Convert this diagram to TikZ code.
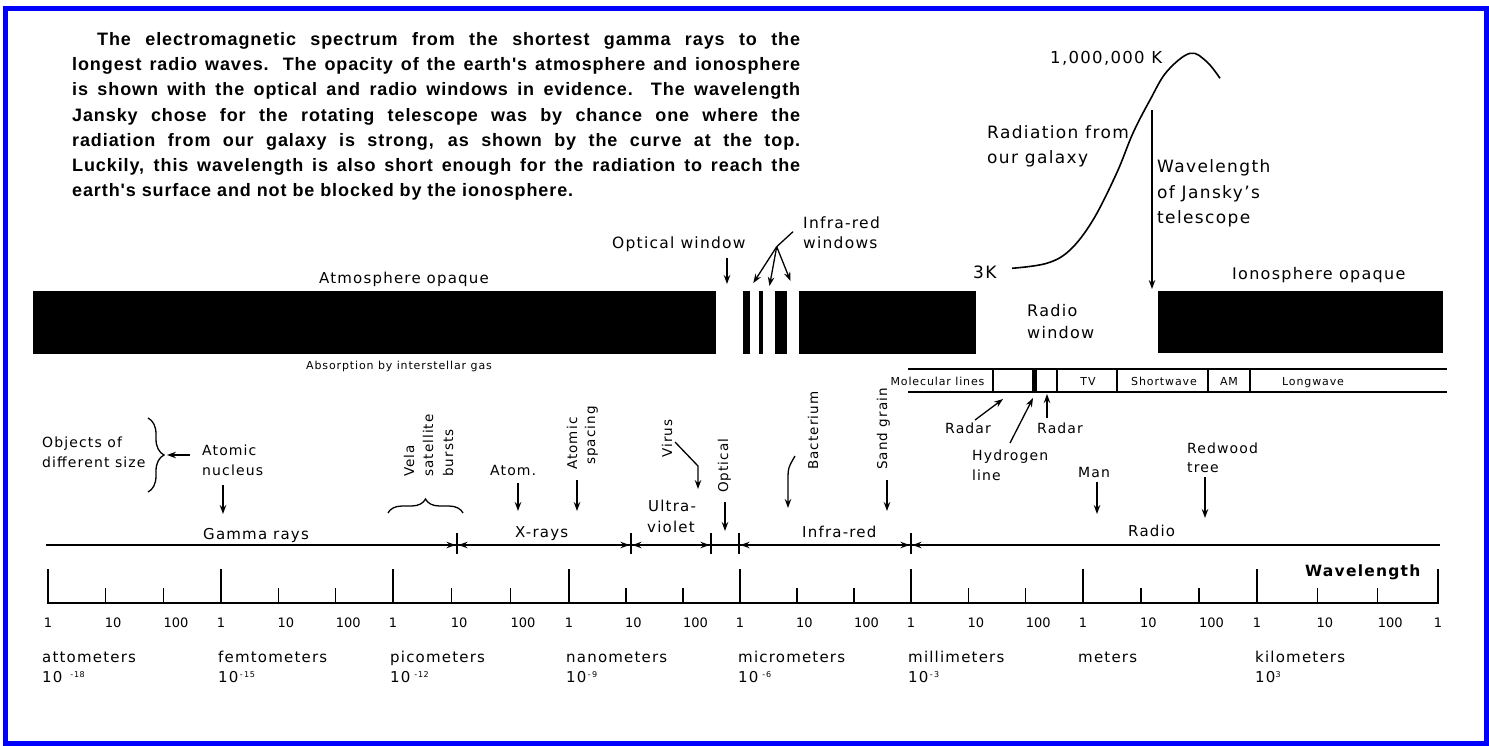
\documentclass[tikz,border=0pt]{standalone}
\usepackage{fontspec}
\setmainfont{DejaVu Sans}[LetterSpace=8]
\newfontfamily\numfont{DejaVu Sans}
\newfontfamily\capfont{Liberation Sans}[LetterSpace=5]
\usetikzlibrary{arrows.meta,decorations.pathreplacing}
\newcommand{\fsz}[1]{\fontsize{#1}{#1}\selectfont}
\newcommand{\expo}[1]{\raisebox{5pt}{\fsz{8}#1}}
\begin{document}
\begin{tikzpicture}[x=1pt,y=-1pt,
  lab/.style={inner sep=0pt, anchor=base west, font=\fsz{15}},
  labb/.style={inner sep=0pt, anchor=base west, font=\fsz{14}},
  biglab/.style={inner sep=0pt, anchor=base west, font=\fsz{17}},
  rotlab/.style={inner sep=0pt, anchor=base west, rotate=90, font=\fsz{13.5}},
  tbl/.style={inner sep=0pt, anchor=base, font=\fsz{11}},
  num/.style={inner sep=0pt, anchor=base west, font=\numfont\fsz{13}},
  captxt/.style={inner sep=0pt, anchor=base west, font=\capfont\bfseries\fsz{18}},
  arr/.style={line width=1.3pt, -{Stealth[length=9pt,width=6.5pt]}},
  tickln/.style={line width=1.5pt},
  bracestyle/.style={line width=1.3pt, decorate},
]
\useasboundingbox (0,0) rectangle (1489,745);

% caption
\node[captxt] (cap1) at (97,45.5) {\makebox[703pt][s]{The electromagnetic spectrum from the shortest gamma rays to the}};
\node[captxt] (cap2) at (72,70.7) {\makebox[728pt][s]{longest radio waves. The opacity of the earth's atmosphere and ionosphere}};
\node[captxt] (cap3) at (72,95.9) {\makebox[728pt][s]{is shown with the optical and radio windows in evidence. The wavelength}};
\node[captxt] (cap4) at (72,121.1) {\makebox[728pt][s]{Jansky chose for the rotating telescope was by chance one where the}};
\node[captxt] (cap5) at (72,146.3) {\makebox[728pt][s]{radiation from our galaxy is strong, as shown by the curve at the top.}};
\node[captxt] (cap6) at (72,171.5) {\makebox[728pt][s]{Luckily, this wavelength is also short enough for the radiation to reach the}};
\node[captxt] (cap7) at (72,196.7) {earth's surface and not be blocked by the ionosphere.};

% galaxy curve
\draw[line width=1.6pt] plot[smooth, tension=0.6] coordinates {(1012,268.3) (1046.7,263.3) (1070,250) (1093,220) (1116.7,173) (1133,133) (1150,100) (1166.7,71.7) (1190,53.3) (1206.7,61.7) (1220,78.3)};
\node[biglab, font=\fsz{16.5}] (peak) at (1050,63) {1,000,000 K};
\node[biglab] (threek) at (973,278) {3K};
\node[biglab] (rad1) at (987,138) {Radiation from};
\node[biglab] (rad2) at (987,163) {our galaxy};
\node[biglab] (jan1) at (1157,172) {Wavelength};
\node[biglab] (jan2) at (1157,198) {of Jansky's};
\node[biglab] (jan3) at (1157,223) {telescope};
\coordinate (janA) at (1152,110);
\coordinate (janB) at (1152,289);
\draw[arr] (janA) -- (janB);
\node[lab, font=\fsz{16}] (iono) at (1232,279) {Ionosphere opaque};
\node[lab, font=\fsz{16}] (rw1) at (1027,316) {Radio};
\node[lab, font=\fsz{16}] (rw2) at (1027,338) {window};

% opaque bars
\fill (33,291) rectangle (716,354);
\fill (743,291) rectangle (750,354);
\fill (759,291) rectangle (763,354);
\fill (775,291) rectangle (787,354);
\fill (799,291) rectangle (976,354);
\fill (1158,291) rectangle (1443,353);

\node[lab, anchor=base] (atmo) at (404,283) {Atmosphere opaque};
\node[tbl] (absorb) at (399,369) {Absorption by interstellar gas};
\node[lab, font=\fsz{15.5}] (optw) at (612,248.5) {Optical window};
\coordinate (optA) at (727,258);
\coordinate (optB) at (727,284);
\draw[arr] (optA) -- (optB);
\node[lab, font=\fsz{15.5}] (irw1) at (803,228) {Infra-red};
\node[lab, font=\fsz{15.5}] (irw2) at (803,248.5) {windows};
\coordinate (irS) at (793,231.7);
\coordinate (irJ) at (776.7,246.7);
\coordinate (ir1) at (753.3,283);
\coordinate (ir2) at (769.5,286);
\coordinate (ir3) at (790.5,281);
\draw[line width=1.3pt] (irS) -- (irJ);
\draw[arr] (irJ) -- (ir1);
\draw[arr] (irJ) -- (ir2);
\draw[arr] (irJ) -- (ir3);

% radio table
\draw[line width=1.4pt] (908,369) -- (1447,369);
\draw[line width=1.4pt] (908,392) -- (1447,392);
\foreach \xx in {993,1057,1117,1208,1250}{\draw[line width=1.4pt] (\xx,369) -- (\xx,392);}
\fill (1032,369) rectangle (1037,392);
\node[tbl] (mol) at (937.5,385) {Molecular lines};
\node[tbl] (tv) at (1088,385) {TV};
\node[tbl] (sw) at (1164,385) {Shortwave};
\node[tbl] (am) at (1229,385) {AM};
\node[tbl] (lw) at (1313,385) {Longwave};

\node[labb] (radarL) at (945,433) {Radar};
\node[labb] (radarR) at (1037,433) {Radar};
\node[labb] (hyd1) at (972,460) {Hydrogen};
\node[labb] (hyd2) at (972,480) {line};
\coordinate (radLA) at (975,420);
\coordinate (radLB) at (1003,399);
\draw[arr] (radLA) -- (radLB);
\coordinate (hydA) at (1010,443);
\coordinate (hydB) at (1033,398);
\draw[arr] (hydA) -- (hydB);
\coordinate (radRA) at (1047,418);
\coordinate (radRB) at (1047,394);
\draw[arr] (radRA) -- (radRB);
\node[labb] (man) at (1078,477) {Man};
\coordinate (manA) at (1097,482);
\coordinate (manB) at (1097,514);
\draw[arr] (manA) -- (manB);
\node[labb] (red1) at (1187,453) {Redwood};
\node[labb] (red2) at (1187,472) {tree};
\coordinate (redA) at (1205,477);
\coordinate (redB) at (1205,518);
\draw[arr] (redA) -- (redB);

% objects
\node[labb] (obj1) at (42,447) {Objects of};
\node[labb] (obj2) at (42,467) {different size};
\coordinate (brT) at (148,418);
\coordinate (brB) at (148,492);
\draw[bracestyle, decoration={brace, amplitude=16pt}] (brT) -- (brB);
\coordinate (objA) at (190,455);
\coordinate (objB) at (167,455);
\draw[arr] (objA) -- (objB);
\node[labb] (nuc1) at (202,455) {Atomic};
\node[labb] (nuc2) at (202,475) {nucleus};
\coordinate (nucA) at (223,485);
\coordinate (nucB) at (223,514);
\draw[arr] (nucA) -- (nucB);

\node[rotlab] (vela) at (414,477) {Vela};
\node[rotlab] (sat) at (433,477) {satellite};
\node[rotlab] (burst) at (453,477) {bursts};
\coordinate (vbL) at (388,513);
\coordinate (vbR) at (463,513);
\draw[bracestyle, decoration={brace, amplitude=14pt}] (vbL) -- (vbR);

\node[labb] (atom) at (490,475) {Atom.};
\coordinate (atA) at (518,483);
\coordinate (atB) at (518,511);
\draw[arr] (atA) -- (atB);
\node[rotlab] (asp1) at (577,470) {Atomic};
\node[rotlab] (asp2) at (595,465) {spacing};
\coordinate (aspA) at (577,480);
\coordinate (aspB) at (577,511);
\draw[arr] (aspA) -- (aspB);
\node[rotlab] (virus) at (672,458) {Virus};
\coordinate (virA) at (675,442);
\coordinate (virM) at (698,466);
\coordinate (virB) at (698,489);
\draw[arr] (virA) -- (virM) -- (virB);
\node[rotlab] (optic) at (728,493) {Optical};
\coordinate (opA) at (725,502);
\coordinate (opB) at (725,531);
\draw[arr] (opA) -- (opB);
\node[rotlab] (bact) at (818,470) {Bacterium};
\coordinate (baA) at (795,456);
\coordinate (baB) at (788,508);
\draw[arr] (baA) .. controls (788,468) .. (788,482) -- (baB);
\node[rotlab] (sand) at (887,470) {Sand grain};
\coordinate (saA) at (887,480);
\coordinate (saB) at (887,511);
\draw[arr] (saA) -- (saB);

% band line
\draw[line width=1.4pt] (46,545) -- (1440,545);
\node[lab] (gamma) at (203,539) {Gamma rays};
\node[lab] (xray) at (515,537) {X-rays};
\node[lab] (uv1) at (648,511) {Ultra-};
\node[lab] (uv2) at (647,532) {violet};
\node[lab] (ir) at (802,537) {Infra-red};
\node[lab] (radio) at (1128,536) {Radio};
\foreach \xx in {457,631,711,739,911}{\draw[tickln] (\xx,533) -- (\xx,554);}
\draw[arr] (436,545) -- (455.5,545);
\draw[arr] (479,545) -- (458.5,545);
\draw[arr] (609,545) -- (629.5,545);
\draw[arr] (654,545) -- (632.5,545);
\draw[arr] (689,545) -- (709.5,545);
\draw[arr] (761,545) -- (740.5,545);
\draw[arr] (889,545) -- (909.5,545);
\draw[arr] (934,545) -- (912.5,545);

% wavelength scale
\node[lab, font=\bfseries\fsz{15.5}] (wl) at (1305,576) {Wavelength};
\draw[line width=2pt] (47,603) -- (1439,603);
\foreach \a/\b [count=\k] in {48/221,221/393,393/569,569/740,740/911,911/1083,1083/1257,1257/1438}{
  \pgfmathsetmacro{\ma}{\a+(\b-\a)/3}
  \pgfmathsetmacro{\mb}{\a+2*(\b-\a)/3}
  \draw[tickln] (\a,603) -- (\a,569);
  \draw[tickln] (\ma,603) -- (\ma,588);
  \draw[tickln] (\mb,603) -- (\mb,588);
  \node[num, anchor=base] (one\k) at (\a,627) {1};
  \node[num] (ten\k) at (\ma-1,627) {10};
  \node[num] (hun\k) at (\mb,627) {100};
}
\draw[tickln] (1438,603) -- (1438,569);
\node[num, anchor=base] (one9) at (1438,627) {1};

\node[lab] (u1) at (42,662) {attometers};
\node[lab] (e1) at (42,682) {10\hspace{8pt}\expo{-18}};
\node[lab] (u2) at (218,662) {femtometers};
\node[lab] (e2) at (218,682) {10\expo{\,-\,15}};
\node[lab] (u3) at (390,662) {picometers};
\node[lab] (e3) at (390,682) {10\hspace{4pt}\expo{-12}};
\node[lab] (u4) at (566,662) {nanometers};
\node[lab] (e4) at (566,682) {10\expo{\,-\,9}};
\node[lab] (u5) at (738,662) {micrometers};
\node[lab] (e5) at (738,682) {10\hspace{4pt}\expo{-6}};
\node[lab] (u6) at (908,662) {millimeters};
\node[lab] (e6) at (908,682) {10\expo{\,-\,3}};
\node[lab] (u7) at (1078,662) {meters};
\node[lab] (u8) at (1255,662) {kilometers};
\node[lab] (e8) at (1255,682) {10\expo{3}};

% frame
\draw[color={rgb,255:red,0;green,0;blue,255}, line width=5pt] (5.8,8.5) rectangle (1486.5,743);
\end{tikzpicture}
\end{document}
